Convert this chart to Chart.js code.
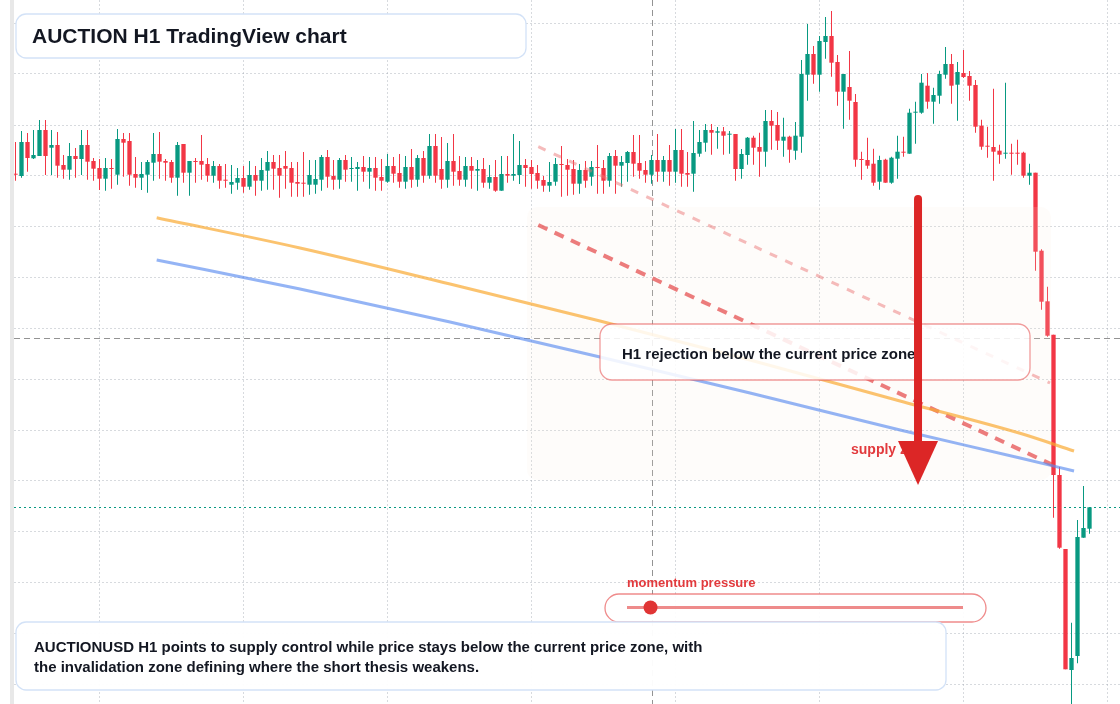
<!DOCTYPE html>
<html><head><meta charset="utf-8">
<script src="https://cdn.jsdelivr.net/npm/chart.js@4.4.1/dist/chart.umd.min.js"></script>
<style>html,body{margin:0;padding:0;background:#fff;overflow:hidden}canvas{display:block}</style>
</head><body>
<canvas id="c" width="1120" height="704" style="width:1120px;height:704px"></canvas>
<script>
// ---- candle data (H1, AUCTIONUSD) ----
const opens = [18.263,18.240,18.580,18.417,18.440,18.700,18.523,18.550,18.350,18.303,
18.440,18.410,18.550,18.390,18.320,18.213,18.320,18.253,18.610,18.590,
18.260,18.223,18.253,18.373,18.460,18.390,18.380,18.223,18.560,18.273,
18.390,18.390,18.360,18.243,18.340,18.200,18.153,18.173,18.220,18.133,
18.250,18.193,18.293,18.380,18.320,18.340,18.320,18.180,18.170,18.153,
18.153,18.203,18.430,18.240,18.203,18.400,18.310,18.310,18.330,18.283,
18.320,18.230,18.183,18.340,18.270,18.183,18.330,18.203,18.420,18.243,
18.540,18.310,18.203,18.390,18.290,18.203,18.340,18.293,18.310,18.173,
18.230,18.093,18.260,18.243,18.250,18.350,18.330,18.270,18.200,18.143,
18.183,18.360,18.350,18.310,18.163,18.300,18.233,18.330,18.320,18.193,
18.440,18.343,18.370,18.480,18.370,18.300,18.253,18.400,18.283,18.400,
18.283,18.500,18.270,18.263,18.463,18.573,18.700,18.673,18.687,18.653,
18.660,18.310,18.450,18.623,18.530,18.483,18.790,18.750,18.593,18.633,
18.493,18.633,19.253,19.460,19.253,19.580,19.640,19.380,19.083,19.130,
18.980,18.410,18.400,18.363,18.183,18.403,18.173,18.413,18.483,18.463,
18.873,18.873,19.143,18.983,19.043,19.253,19.360,19.153,19.270,19.240,
19.150,18.743,18.543,18.530,18.493,18.463,18.473,18.473,18.473,18.243,
18.273,17.493,16.987,16.653,15.250,14.510,13.300,13.440,14.623,14.713];
const highs = [18.580,18.690,18.670,18.700,18.800,18.800,18.700,18.680,18.450,18.570,
18.520,18.700,18.700,18.420,18.410,18.420,18.410,18.710,18.670,18.670,
18.430,18.380,18.400,18.670,18.680,18.410,18.400,18.580,18.560,18.390,
18.420,18.650,18.420,18.390,18.360,18.360,18.350,18.320,18.340,18.390,
18.340,18.420,18.490,18.450,18.450,18.490,18.380,18.380,18.480,18.400,
18.400,18.450,18.500,18.400,18.420,18.450,18.430,18.380,18.440,18.430,
18.430,18.410,18.460,18.430,18.460,18.440,18.510,18.450,18.490,18.660,
18.660,18.630,18.570,18.660,18.440,18.430,18.430,18.400,18.420,18.350,
18.400,18.440,18.440,18.660,18.590,18.410,18.400,18.350,18.240,18.380,
18.420,18.540,18.410,18.400,18.360,18.390,18.390,18.550,18.400,18.470,
18.500,18.440,18.490,18.650,18.650,18.390,18.450,18.660,18.440,18.550,
18.710,18.710,18.480,18.790,18.700,18.760,18.760,18.730,18.730,18.690,
18.660,18.510,18.630,18.643,18.673,18.900,18.900,18.880,18.823,18.643,
18.780,19.400,19.760,19.540,19.640,19.830,19.890,19.450,19.260,19.490,
19.060,18.483,18.623,18.513,18.443,18.413,18.433,18.643,18.633,18.913,
18.983,19.260,19.270,19.123,19.293,19.530,19.460,19.380,19.500,19.290,
19.200,18.803,18.733,19.113,18.553,19.173,18.563,18.603,18.483,18.363,
18.273,17.507,17.133,16.653,15.330,14.510,13.773,14.800,15.140,14.927];
const lows = [18.193,18.223,18.283,18.410,18.440,18.250,18.250,18.223,18.213,18.203,
18.223,18.250,18.203,18.193,18.100,18.093,18.113,18.153,18.233,18.143,
18.123,18.100,18.073,18.193,18.213,18.193,18.173,18.043,18.173,18.043,
18.173,18.203,18.183,18.173,18.113,18.123,18.063,18.103,18.073,18.103,
18.043,18.093,18.103,18.103,18.023,18.113,18.033,18.033,18.033,18.053,
18.063,18.093,18.123,18.103,18.113,18.183,18.183,18.093,18.183,18.113,
18.093,18.093,18.173,18.173,18.123,18.113,18.123,18.133,18.173,18.213,
18.173,18.113,18.123,18.143,18.143,18.133,18.113,18.093,18.123,18.113,
18.083,18.093,18.173,18.193,18.160,18.133,18.113,18.113,18.083,18.083,
18.143,18.033,18.043,18.053,18.063,18.123,18.143,18.063,18.063,18.133,
18.063,18.133,18.183,18.233,18.213,18.173,18.163,18.183,18.183,18.143,
18.173,18.133,18.133,18.083,18.433,18.483,18.453,18.513,18.453,18.463,
18.193,18.213,18.353,18.353,18.233,18.333,18.503,18.500,18.433,18.373,
18.403,18.473,18.993,19.163,19.083,19.413,19.233,18.943,18.713,18.803,
18.333,18.203,18.313,18.143,18.103,18.173,18.163,18.213,18.433,18.463,
18.563,18.863,18.913,18.763,18.963,19.213,18.963,18.793,19.220,18.993,
18.673,18.503,18.423,18.193,18.363,18.413,18.253,18.353,18.223,18.153,
17.293,16.903,16.633,14.823,14.513,13.307,12.900,13.367,14.623,14.663];
const closes = [18.253,18.580,18.420,18.450,18.700,18.440,18.550,18.343,18.303,18.440,
18.410,18.550,18.383,18.313,18.213,18.320,18.310,18.610,18.573,18.253,
18.223,18.260,18.380,18.460,18.383,18.373,18.223,18.550,18.273,18.390,
18.380,18.353,18.243,18.340,18.193,18.193,18.180,18.220,18.133,18.250,
18.193,18.300,18.380,18.313,18.243,18.313,18.173,18.163,18.163,18.250,
18.210,18.430,18.233,18.203,18.400,18.303,18.320,18.330,18.283,18.320,
18.223,18.193,18.340,18.263,18.183,18.330,18.203,18.420,18.243,18.540,
18.243,18.203,18.390,18.283,18.203,18.340,18.293,18.310,18.173,18.230,
18.093,18.260,18.243,18.260,18.350,18.320,18.260,18.193,18.143,18.180,
18.360,18.350,18.303,18.163,18.300,18.193,18.330,18.320,18.193,18.440,
18.343,18.380,18.480,18.363,18.293,18.253,18.400,18.283,18.400,18.283,
18.500,18.263,18.253,18.470,18.580,18.700,18.673,18.687,18.643,18.663,
18.310,18.460,18.623,18.523,18.483,18.790,18.743,18.593,18.633,18.503,
18.643,19.260,19.460,19.253,19.590,19.640,19.373,19.083,19.260,18.993,
18.403,18.400,18.343,18.173,18.400,18.173,18.423,18.483,18.473,18.873,
18.883,19.173,18.983,19.050,19.260,19.360,19.143,19.280,19.230,19.143,
18.733,18.533,18.533,18.483,18.453,18.473,18.463,18.463,18.243,18.273,
17.483,16.983,16.643,15.250,14.523,13.307,13.420,14.630,14.720,14.927];

// ---- overlay study lines (bar index, price) ----
const orangeIdx = [23.53, 47.42, 72.42, 97.42, 122.42, 147.42, 167.42, 176.42];
const orangePx  = [17.823, 17.520, 17.160, 16.790, 16.400, 15.990, 15.667, 15.490];
const blueIdx   = [23.53, 47.42, 72.42, 97.42, 122.42, 147.42, 167.42, 176.42];
const bluePx    = [17.400, 17.110, 16.780, 16.430, 16.070, 15.700, 15.420, 15.290];
const pinkIdx   = [87.13, 172.42];
const pinkPx    = [18.533, 16.170];
const redIdx    = [87.13, 173.25];
const redPx     = [17.750, 15.340];

// ---- levels / grid ----
const currentPriceLevel = 16.62;
const markerIndex = 106;
const xGridIdx = [14, 38, 62, 86, 110, 134, 158, 182];
const yGridPrices = [19.77, 19.26, 18.75, 18.25, 17.74, 17.23, 16.72, 16.21, 15.70, 15.20, 14.69, 14.18, 13.67, 13.16];
const zone = { idxFrom: 85.25, idxTo: 172.58, priceTop: 17.93, priceBottom: 15.20 };
const arrow = { idx: 150.42, priceFrom: 18.05, priceHead: 15.59, priceTip: 15.15 };
const zoneLabel = { idx: 139.25, price: 15.50, text: 'supply zone' };
const momentumValue = 0.07;

const UP = '#089981', DOWN = '#F23645';
const idx = opens.map((_, i) => i);
const candleColors = idx.map(i => closes[i] >= opens[i] ? UP : DOWN);
const lastClose = closes[closes.length - 1];
const FONT = '"Liberation Sans", Arial, sans-serif';

function rr(ctx, x, y, w, h, r) {
  ctx.beginPath();
  ctx.moveTo(x + r, y);
  ctx.arcTo(x + w, y, x + w, y + h, r);
  ctx.arcTo(x + w, y + h, x, y + h, r);
  ctx.arcTo(x, y + h, x, y, r);
  ctx.arcTo(x, y, x + w, y, r);
  ctx.closePath();
}

const overlay = {
  id: 'overlay',
  beforeDraw(chart) {
    const ctx = chart.ctx;
    ctx.save();
    ctx.fillStyle = '#fff';
    ctx.fillRect(0, 0, chart.width, chart.height);
    ctx.fillStyle = '#e8e8e8';
    ctx.fillRect(10, 0, 4, chart.height);
    ctx.restore();
  },
  beforeDatasetsDraw(chart) {
    const { ctx, chartArea: a, scales: { x, y } } = chart;
    ctx.save();
    ctx.lineWidth = 1;
    ctx.strokeStyle = 'rgba(120,120,120,0.8)';
    ctx.setLineDash([6, 4]);
    let py = Math.round(y.getPixelForValue(currentPriceLevel)) + 0.5;
    ctx.beginPath(); ctx.moveTo(a.left, py); ctx.lineTo(a.right, py); ctx.stroke();
    const vx = Math.round(x.getPixelForValue(markerIndex)) + 0.5;
    ctx.beginPath(); ctx.moveTo(vx, a.top); ctx.lineTo(vx, a.bottom); ctx.stroke();
    ctx.strokeStyle = UP;
    ctx.setLineDash([2, 3]);
    py = Math.round(y.getPixelForValue(lastClose)) + 0.5;
    ctx.beginPath(); ctx.moveTo(a.left, py); ctx.lineTo(a.right, py); ctx.stroke();
    ctx.restore();
  },
  afterDatasetDraw(chart, args) {
    if (args.index !== 4) return;
    const { ctx, scales: { x, y } } = chart;
    const x0 = x.getPixelForValue(zone.idxFrom), x1 = x.getPixelForValue(zone.idxTo);
    const y0 = y.getPixelForValue(zone.priceTop), y1 = y.getPixelForValue(zone.priceBottom);
    ctx.save();
    rr(ctx, x0, y0, x1 - x0, y1 - y0, 10);
    ctx.fillStyle = 'rgba(248,232,222,0.14)';
    ctx.fill();
    ctx.restore();
  },
  afterDraw(chart) {
    const { ctx, scales: { x, y } } = chart;
    ctx.save();
    ctx.textBaseline = 'middle'; ctx.textAlign = 'left';
    // callout
    rr(ctx, 600, 324, 430, 56, 12);
    ctx.fillStyle = 'rgba(255,255,255,0.86)'; ctx.fill();
    ctx.strokeStyle = 'rgba(232,90,90,0.6)'; ctx.lineWidth = 1.3; ctx.stroke();
    ctx.fillStyle = '#131722';
    ctx.font = 'bold 15px ' + FONT;
    ctx.fillText('H1 rejection below the current price zone', 622, 355);

    // supply zone label
    ctx.fillStyle = '#e23a3d';
    ctx.font = 'bold 14px ' + FONT;
    ctx.fillText(zoneLabel.text, x.getPixelForValue(zoneLabel.idx), y.getPixelForValue(zoneLabel.price));

    // arrow
    const ax = x.getPixelForValue(arrow.idx);
    const ay0 = y.getPixelForValue(arrow.priceFrom), ayh = y.getPixelForValue(arrow.priceHead), ayt = y.getPixelForValue(arrow.priceTip);
    ctx.strokeStyle = '#dc2626'; ctx.lineWidth = 8; ctx.lineCap = 'round';
    ctx.beginPath(); ctx.moveTo(ax, ay0 + 4); ctx.lineTo(ax, ayh); ctx.stroke();
    ctx.lineCap = 'butt';
    ctx.fillStyle = '#dc2626';
    ctx.beginPath(); ctx.moveTo(ax - 20, ayh); ctx.lineTo(ax + 20, ayh); ctx.lineTo(ax, ayt); ctx.closePath(); ctx.fill();

    // title
    rr(ctx, 16, 14, 510, 44, 10);
    ctx.fillStyle = '#fff'; ctx.fill();
    ctx.strokeStyle = '#d3e2f7'; ctx.lineWidth = 1.3; ctx.stroke();
    ctx.fillStyle = '#131722';
    ctx.font = 'bold 21px ' + FONT;
    ctx.fillText('AUCTION H1 TradingView chart', 32, 37);

    // momentum pill
    rr(ctx, 605, 594, 381, 28, 14);
    ctx.fillStyle = 'rgba(255,255,255,0.92)'; ctx.fill();
    ctx.strokeStyle = 'rgba(232,90,90,0.7)'; ctx.lineWidth = 1.3; ctx.stroke();
    ctx.strokeStyle = 'rgba(232,100,100,0.75)'; ctx.lineWidth = 3;
    ctx.beginPath(); ctx.moveTo(627, 607.5); ctx.lineTo(963, 607.5); ctx.stroke();
    ctx.fillStyle = '#e03535';
    ctx.beginPath(); ctx.arc(627 + momentumValue * 336, 607.5, 7, 0, Math.PI * 2); ctx.fill();
    ctx.fillStyle = '#e23a3d';
    ctx.font = 'bold 13px ' + FONT;
    ctx.fillText('momentum pressure', 627, 583);

    // bottom note
    rr(ctx, 16, 622, 930, 68, 10);
    ctx.fillStyle = 'rgba(255,255,255,0.96)'; ctx.fill();
    ctx.strokeStyle = '#d3e2f7'; ctx.lineWidth = 1.3; ctx.stroke();
    ctx.fillStyle = '#131722';
    ctx.font = 'bold 15px ' + FONT;
    ctx.fillText('AUCTIONUSD H1 points to supply control while price stays below the current price zone, with', 34, 648);
    ctx.fillText('the invalidation zone defining where the short thesis weakens.', 34, 668);
    ctx.restore();
  }
};

const pts = (xs, ys) => xs.map((v, i) => ({ x: v, y: ys[i] }));
const GRID = 'rgba(160,168,176,0.42)';

new Chart(document.getElementById('c'), {
  type: 'bar',
  data: {
    datasets: [
      { type: 'line', label: 'orange', data: pts(orangeIdx, orangePx), borderColor: 'rgba(249,170,50,0.7)', borderWidth: 3, pointRadius: 0, cubicInterpolationMode: 'monotone', order: 1 },
      { type: 'line', label: 'blue', data: pts(blueIdx, bluePx), borderColor: 'rgba(90,140,240,0.65)', borderWidth: 3, pointRadius: 0, cubicInterpolationMode: 'monotone', order: 2 },
      { type: 'line', label: 'pink', data: pts(pinkIdx, pinkPx), borderColor: 'rgba(235,120,120,0.5)', borderWidth: 3, borderDash: [8, 9], pointRadius: 0, order: 3 },
      { type: 'line', label: 'red', data: pts(redIdx, redPx), borderColor: 'rgba(228,70,70,0.7)', borderWidth: 4, borderDash: [10, 8], pointRadius: 0, order: 4 },
      { label: 'body', data: idx.map(i => ({ x: i, y: [opens[i], closes[i]] })), backgroundColor: candleColors, maxBarThickness: 5, minBarLength: 1, grouped: false, borderWidth: 0, order: 5 },
      { label: 'wick', data: idx.map(i => ({ x: i, y: [lows[i], highs[i]] })), backgroundColor: candleColors, maxBarThickness: 1, grouped: false, borderWidth: 0, order: 6 }
    ]
  },
  options: {
    responsive: false, animation: false, devicePixelRatio: 1,
    layout: { padding: { left: 14, right: 0, top: 0, bottom: 0 } },
    plugins: { legend: { display: false }, tooltip: { enabled: false } },
    scales: {
      x: {
        type: 'linear', min: -0.25, max: 184.0833, offset: false,
        grid: { offset: false, color: GRID, lineWidth: 1, drawTicks: false },
        border: { display: false, dash: [2, 2] },
        ticks: { display: false },
        afterBuildTicks: s => { s.ticks = xGridIdx.map(v => ({ value: v })); }
      },
      y: {
        type: 'linear', min: 12.96, max: 20.0,
        grid: { color: GRID, lineWidth: 1, drawTicks: false },
        border: { display: false, dash: [2, 2] },
        ticks: { display: false },
        afterBuildTicks: s => { s.ticks = yGridPrices.map(v => ({ value: v })); }
      }
    }
  },
  plugins: [overlay]
});
</script>
</body></html>
